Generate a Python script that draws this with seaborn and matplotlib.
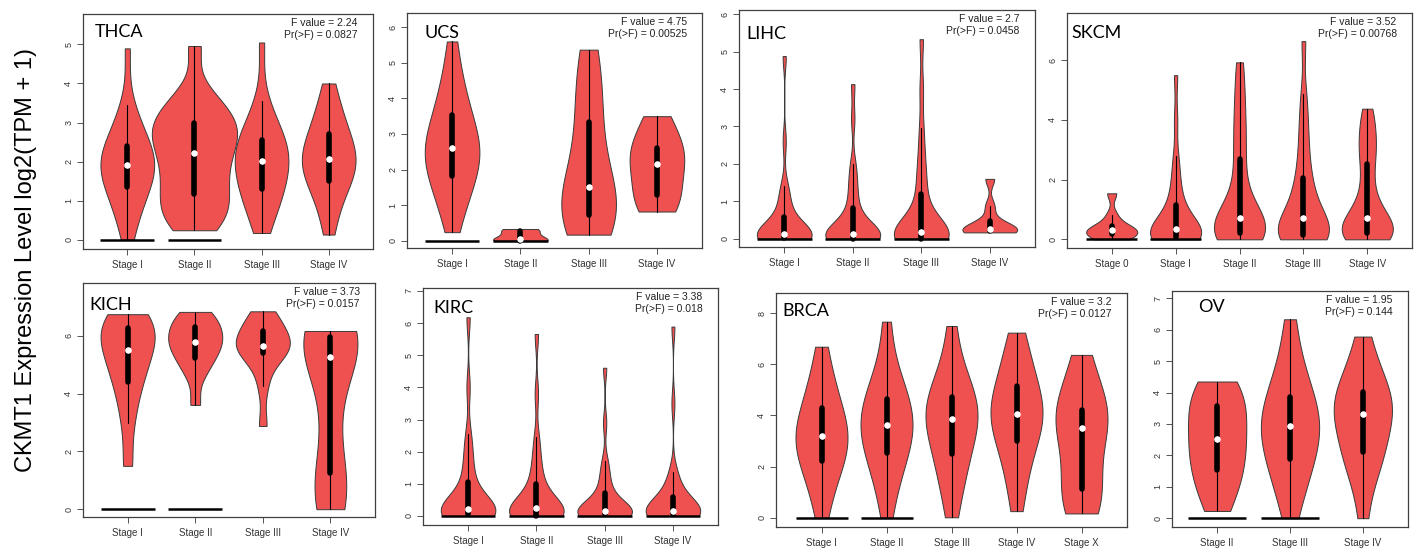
import numpy as np
import pandas as pd
import seaborn as sns
import matplotlib.pyplot as plt
from matplotlib.ticker import MultipleLocator

# Stage labels per cancer type
stages4 = ['Stage I', 'Stage II', 'Stage III', 'Stage IV']
skcm_stages = ['Stage 0', 'Stage I', 'Stage II', 'Stage III', 'Stage IV']
brca_stages = ['Stage I', 'Stage II', 'Stage III', 'Stage IV', 'Stage X']
ov_stages = ['Stage II', 'Stage III', 'Stage IV']

# CKMT1 expression, log2(TPM + 1)
thca_values = [
    [0.0, 0.45, 0.75, 0.98, 1.18, 1.34, 1.48, 1.6, 1.72, 1.82, 1.92, 2.02, 2.12, 2.22, 2.32, 2.41, 2.6, 2.85, 3.1, 3.45, 4.9],
    [0.24, 0.4, 0.6, 0.8, 1.0, 1.17, 1.38, 1.6, 1.82, 2.02, 2.22, 2.4, 2.55, 2.7, 2.85, 2.98, 3.12, 3.3, 3.5, 3.8, 4.96],
    [0.17, 0.55, 0.8, 1.0, 1.15, 1.3, 1.45, 1.6, 1.75, 1.9, 2.02, 2.12, 2.22, 2.32, 2.44, 2.56, 2.72, 2.9, 3.15, 3.55, 5.05],
    [0.13, 0.6, 0.95, 1.2, 1.38, 1.51, 1.65, 1.78, 1.9, 1.98, 2.06, 2.15, 2.28, 2.42, 2.56, 2.7, 2.88, 3.05, 3.3, 3.6, 4.0],
]
ucs_values = [
    [0.24, 0.8, 1.15, 1.4, 1.62, 1.83, 2.0, 2.18, 2.32, 2.46, 2.6, 2.74, 2.86, 3.0, 3.22, 3.52, 3.75, 4.0, 4.35, 4.85, 5.6],
    [0.0, 0.0, 0.05, 0.27, 0.33],
    [0.17, 0.35, 0.55, 0.72, 0.95, 1.2, 1.5, 1.9, 2.6, 3.35, 4.0, 4.7, 5.37],
    [0.82, 1.05, 1.28, 1.8, 2.16, 2.4, 2.6, 3.0, 3.5],
]
lihc_values = [
    [0, 0, 0, 0, 0, 0.01, 0.02, 0.03, 0.04, 0.06, 0.08, 0.1, 0.12, 0.15, 0.19, 0.25, 0.33, 0.45, 0.59, 0.78, 1.0, 1.2, 1.42, 2.6, 4.88],
    [0, 0, 0, 0, 0, 0, 0, 0.02, 0.04, 0.07, 0.09, 0.12, 0.14, 0.18, 0.24, 0.32, 0.44, 0.6, 0.81, 1.05, 1.35, 1.65, 2.0, 3.2, 4.13],
    [0, 0, 0, 0, 0, 0, 0, 0.03, 0.06, 0.09, 0.12, 0.14, 0.17, 0.22, 0.3, 0.42, 0.6, 0.85, 1.19, 1.5, 1.85, 2.3, 2.95, 4.0, 5.33],
    [0.17, 0.18, 0.2, 0.22, 0.25, 0.32, 0.47, 0.87, 1.6],
]
skcm_values = [
    [0, 0.05, 0.17, 0.25, 0.31, 0.36, 0.43, 0.8, 1.54],
    [0, 0, 0, 0.01, 0.03, 0.05, 0.07, 0.1, 0.14, 0.18, 0.23, 0.28, 0.33, 0.4, 0.5, 0.63, 0.78, 0.95, 1.16, 1.45, 1.8, 2.25, 2.78, 4.0, 5.49],
    [0, 0.03, 0.07, 0.11, 0.15, 0.2, 0.28, 0.38, 0.48, 0.58, 0.7, 0.88, 1.1, 1.45, 2.0, 2.68, 3.2, 3.8, 4.4, 5.1, 5.92],
    [0, 0, 0.02, 0.04, 0.06, 0.09, 0.13, 0.18, 0.25, 0.33, 0.43, 0.55, 0.7, 0.85, 1.02, 1.25, 1.5, 1.75, 2.04, 2.45, 2.95, 3.5, 4.1, 4.85, 6.63],
    [0, 0.03, 0.07, 0.11, 0.15, 0.2, 0.28, 0.38, 0.48, 0.6, 0.72, 0.9, 1.15, 1.5, 2.0, 2.52, 2.9, 3.2, 3.55, 3.95, 4.37],
]
kich_values = [
    [1.5, 3.0, 3.9, 4.42, 4.85, 5.2, 5.51, 5.75, 6.0, 6.26, 6.45, 6.6, 6.75],
    [3.61, 4.6, 5.0, 5.22, 5.45, 5.65, 5.8, 5.92, 6.08, 6.3, 6.5, 6.65, 6.83],
    [2.88, 4.25, 5.0, 5.4, 5.5, 5.58, 5.65, 5.75, 5.95, 6.17, 6.4, 6.6, 6.85],
    [0.0, 0.6, 1.25, 3.3, 5.26, 5.6, 5.97, 6.1, 6.17],
]
kirc_values = [
    [0, 0, 0, 0.01, 0.03, 0.05, 0.07, 0.09, 0.11, 0.13, 0.16, 0.19, 0.22, 0.27, 0.34, 0.44, 0.58, 0.8, 1.07, 1.35, 1.7, 2.1, 2.55, 4.0, 6.18],
    [0, 0, 0, 0, 0, 0, 0, 0.03, 0.07, 0.11, 0.15, 0.19, 0.24, 0.3, 0.38, 0.48, 0.6, 0.78, 0.99, 1.25, 1.55, 1.95, 2.45, 3.8, 5.66],
    [0, 0, 0, 0.01, 0.02, 0.03, 0.05, 0.07, 0.09, 0.11, 0.13, 0.15, 0.17, 0.21, 0.26, 0.33, 0.42, 0.55, 0.73, 0.92, 1.15, 1.42, 1.72, 2.9, 4.61],
    [0, 0, 0, 0.01, 0.02, 0.03, 0.05, 0.07, 0.09, 0.11, 0.12, 0.13, 0.15, 0.18, 0.22, 0.28, 0.36, 0.46, 0.58, 0.75, 0.95, 1.18, 1.37, 3.5, 5.89],
]
brca_values = [
    [0, 0.9, 1.5, 1.9, 2.22, 2.5, 2.78, 3.0, 3.21, 3.42, 3.65, 3.95, 4.3, 4.7, 5.15, 5.7, 6.69],
    [0, 1.1, 1.7, 2.15, 2.52, 2.85, 3.15, 3.4, 3.62, 3.85, 4.1, 4.35, 4.63, 5.0, 5.45, 6.1, 7.67],
    [0.02, 1.0, 1.65, 2.1, 2.49, 2.95, 3.35, 3.65, 3.86, 4.05, 4.25, 4.48, 4.74, 5.1, 5.5, 6.1, 7.5],
    [0.26, 1.3, 1.95, 2.5, 3.0, 3.35, 3.65, 3.85, 4.04, 4.25, 4.5, 4.8, 5.15, 5.55, 6.0, 6.6, 7.24],
    [0.17, 0.5, 0.8, 1.11, 2.0, 2.9, 3.5, 3.75, 4.0, 4.22, 4.7, 5.4, 6.37],
]
ov_values = [
    [0.23, 0.8, 1.2, 1.54, 1.9, 2.2, 2.51, 2.85, 3.2, 3.58, 3.85, 4.1, 4.35],
    [0, 0.8, 1.25, 1.6, 1.89, 2.2, 2.5, 2.72, 2.92, 3.12, 3.32, 3.55, 3.85, 4.2, 4.65, 5.2, 6.33],
    [0, 1.2, 1.65, 1.9, 2.12, 2.5, 2.85, 3.1, 3.32, 3.5, 3.65, 3.82, 4.01, 4.25, 4.6, 5.1, 5.78],
]

# groups drawn with a flat black line at zero
thca_zero = [1, 1, 0, 0]
ucs_zero = [1, 1, 0, 0]
lihc_zero = [1, 1, 1, 0]
skcm_zero = [1, 1, 0, 0, 0]
kich_zero = [1, 1, 0, 0]
kirc_zero = [1, 1, 1, 1]
brca_zero = [1, 1, 0, 0, 0]
ov_zero = [1, 1, 0]

# ANOVA results printed in each panel
f_values = ['2.24', '4.75', '2.7', '3.52', '3.73', '3.38', '3.2', '1.95']
p_values = ['0.0827', '0.00525', '0.0458', '0.00768', '0.0157', '0.018', '0.0127', '0.144']

# name, stages, values, zero flags, axes box (left, right, top, bottom px), ylim, tick step,
# title offset (px), violin widths, bandwidth adjust per violin
panels = [
    ('THCA', stages4, thca_values, thca_zero, (83, 373, 14, 249), (-0.24, 5.78), 1, (12, 10), [0.8, 1.27, 0.8, 0.8], [1.0, 0.7, 1.0, 1.0]),
    ('UCS', stages4, ucs_values, ucs_zero, (407, 702, 13, 248), (-0.205, 6.40), 1, (18, 12), [0.8] * 4, [1.0] * 4),
    ('LIHC', stages4, lihc_values, lihc_zero, (739, 1035, 10, 247), (-0.22, 6.11), 1, (7, 16), [0.8] * 4, [0.6] * 4),
    ('SKCM', skcm_stages, skcm_values, skcm_zero, (1067, 1412, 13, 248), (-0.29, 7.57), 2, (4, 12), [0.8] * 5, [0.7] * 5),
    ('KICH', stages4, kich_values, kich_zero, (83, 375, 283, 517), (-0.27, 7.83), 2, (6, 14), [0.8] * 4, [0.8] * 4),
    ('KIRC', stages4, kirc_values, kirc_zero, (423, 718, 288, 525), (-0.28, 7.09), 1, (10, 12), [0.8] * 4, [0.6] * 4),
    ('BRCA', brca_stages, brca_values, brca_zero, (776, 1127, 293, 527), (-0.36, 8.79), 2, (6, 10), [0.8] * 5, [1.0] * 5),
    ('OV', ov_stages, ov_values, ov_zero, (1172, 1408, 291, 527), (-0.28, 7.23), 1, (26, 8), [0.8] * 3, [1.0] * 3),
]

violin_red = '#EE5150'
W, H = 1417, 552

sns.set_style('white')
plt.rcParams['font.family'] = ['Liberation Sans', 'DejaVu Sans']

fig = plt.figure(figsize=(W / 100, H / 100), dpi=100)

for k, (name, stages, groups, zero_flags, box, ylim, step, toff, widths, bws) in enumerate(panels):
    left, right, top, bottom = box
    ax = fig.add_axes([left / W, 1 - bottom / H, (right - left) / W, (bottom - top) / H])

    df = pd.DataFrame({'stage': np.repeat(stages, [len(g) for g in groups]),
                       'value': np.concatenate(groups)})
    for stage, w, bw in zip(stages, widths, bws):
        sns.violinplot(data=df[df['stage'] == stage], x='stage', y='value', order=stages, ax=ax,
                       cut=0, density_norm='width', width=w, bw_adjust=bw,
                       color=violin_red, saturation=1, linecolor='#3a3a3a', linewidth=0.7,
                       inner='box', inner_kws=dict(box_width=4, whis_width=0.8, marker='o', color='black'))

    # white median dot and the flat zero lines
    for i, g in enumerate(groups):
        ax.plot(i, np.median(g), 'o', color='white', ms=3.6, mec='white', zorder=5)
        if zero_flags[i]:
            ax.hlines(0, i - 0.4, i + 0.4, color='black', lw=1.8, zorder=4)

    n = len(stages)
    ax.set_xlim(-0.5 - 0.04 * n, n - 0.5 + 0.04 * n)
    ax.set_ylim(*ylim)
    ax.yaxis.set_major_locator(MultipleLocator(step))
    ax.set_xlabel('')
    ax.set_ylabel('')
    for s in ax.spines.values():
        s.set_visible(True)
        s.set_color('#404040')
        s.set_linewidth(0.9)
    ax.tick_params(axis='both', direction='out', length=4, width=0.7, color='#555555',
                   labelcolor='#333333', left=True, bottom=True)
    ax.tick_params(axis='x', labelsize=7, pad=4)
    ax.tick_params(axis='y', labelsize=6.5, labelrotation=90, pad=3)
    for lab in ax.get_yticklabels():
        lab.set_va('center')

    ax.annotate(name, xy=(0, 1), xycoords='axes fraction',
                xytext=(toff[0] * 0.72, -toff[1] * 0.72), textcoords='offset points',
                ha='left', va='top', fontsize=13, family=['Lato', 'DejaVu Sans'], color='black')
    ax.annotate(f'F value = {f_values[k]}\nPr(>F) = {p_values[k]}', xy=(1, 1), xycoords='axes fraction',
                xytext=(-11, -3), textcoords='offset points', ha='right', va='top',
                fontsize=7.5, linespacing=1.25, color='#222222', multialignment='right')

fig.text(26 / W, 1 - 260 / H, 'CKMT1 Expression Level log2(TPM + 1)', rotation=90,
         ha='center', va='center', fontsize=17, color='black')

fig.savefig('out.png', dpi=100)
